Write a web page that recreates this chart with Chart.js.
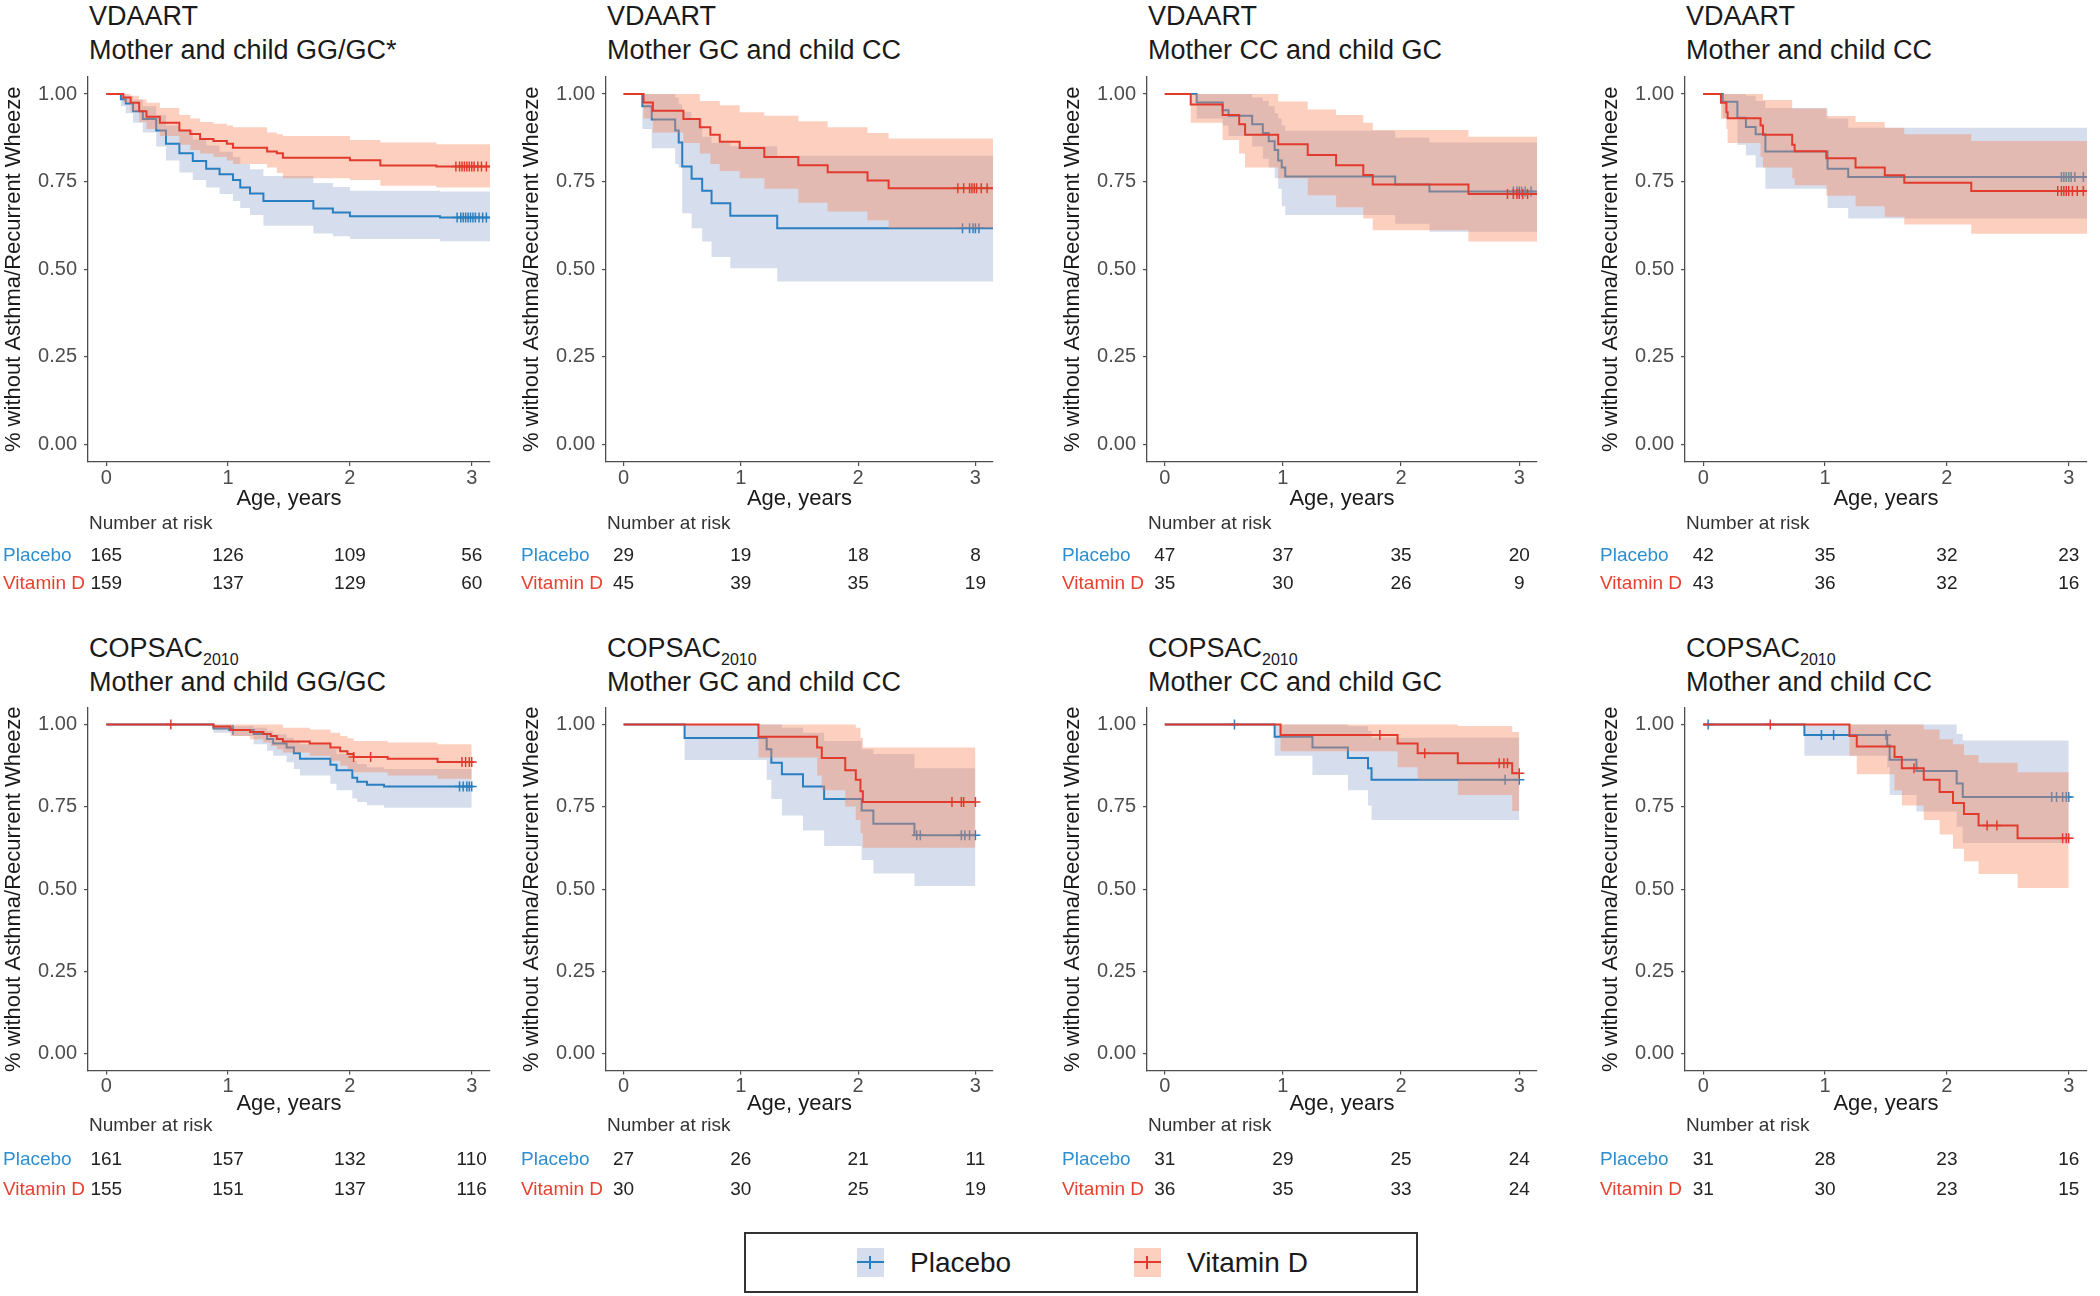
<!DOCTYPE html>
<html>
<head>
<meta charset="utf-8">
<script src="https://cdn.jsdelivr.net/npm/chart.js@4.4.1/dist/chart.umd.min.js"></script>
<style>
    html, body { margin: 0; padding: 0; background: #fff; }
    body { width: 2100px; height: 1296px; position: relative; overflow: hidden;
           font-family: "Liberation Sans", Arial, Helvetica, sans-serif; }
    canvas { position: absolute; }
    .ttl { position: absolute; font-size: 27px; line-height: 34px; color: #1a1a1a; white-space: nowrap; }
    .ttl .sub { font-size: 16px; position: relative; top: 8px; line-height: 0; }
    #legend { position: absolute; left: 744px; top: 1232px; width: 674px; height: 61px;
              box-sizing: border-box; border: 2px solid #333; background: #fff; }
    #legend .sw { position: absolute; top: 14px; width: 27px; height: 29px; }
    #legend .sw::before { content: ""; position: absolute; left: 0; right: 0; top: 13px; height: 2px; background: var(--c); }
    #legend .sw::after { content: ""; position: absolute; left: 12px; width: 2px; top: 8px; height: 13px; background: var(--c); }
    #legend .txt { position: absolute; top: 13px; font-size: 28px; line-height: 32px; color: #1a1a1a; }
</style>
</head>
<body>
<div id="legend">
    <span class="sw" style="left:111px;background:#d6ddec;--c:#2a7fc0"></span>
    <span class="txt" style="left:164px">Placebo</span>
    <span class="sw" style="left:388px;background:#fccfbe;--c:#e23b2e"></span>
    <span class="txt" style="left:441px">Vitamin D</span>
</div>
<script>
// titoli dei pannelli
const cohorts = ["VDAART", "VDAART", "VDAART", "VDAART", "COPSAC", "COPSAC", "COPSAC", "COPSAC"]
const cohortSub = ["", "", "", "", "2010", "2010", "2010", "2010"]
const subgroups = [
    "Mother and child GG/GC*", "Mother GC and child CC", "Mother CC and child GC", "Mother and child CC",
    "Mother and child GG/GC", "Mother GC and child CC", "Mother CC and child GC", "Mother and child CC",
]
const xTicks = [0, 1, 2, 3]
const yTicks = [0, 0.25, 0.5, 0.75, 1]

// number at risk at 0, 1, 2, 3 years
const riskPlacebo = [[165, 126, 109, 56], [29, 19, 18, 8], [47, 37, 35, 20], [42, 35, 32, 23],
    [161, 157, 132, 110], [27, 26, 21, 11], [31, 29, 25, 24], [31, 28, 23, 16]]
const riskVitaminD = [[159, 137, 129, 60], [45, 39, 35, 19], [35, 30, 26, 9], [43, 36, 32, 16],
    [155, 151, 137, 116], [30, 30, 25, 19], [36, 35, 33, 24], [31, 30, 23, 15]]

// curve: [age, survival, lower CI, upper CI]
const placebo1 = [[0, 1, 1, 1], [0.12, 0.985, 0.965, 1], [0.16, 0.973, 0.945, 0.995], [0.22, 0.951, 0.918, 0.984],
    [0.30, 0.929, 0.89, 0.965], [0.41, 0.896, 0.85, 0.94], [0.49, 0.858, 0.81, 0.91], [0.60, 0.831, 0.776, 0.896],
    [0.71, 0.809, 0.755, 0.87], [0.82, 0.787, 0.733, 0.853], [0.93, 0.771, 0.715, 0.835], [1.04, 0.755, 0.695, 0.82],
    [1.10, 0.733, 0.675, 0.80], [1.18, 0.716, 0.655, 0.785], [1.29, 0.695, 0.624, 0.766], [1.70, 0.673, 0.602, 0.746],
    [1.86, 0.662, 0.594, 0.735], [2.00, 0.651, 0.586, 0.724], [2.74, 0.648, 0.58, 0.722], [3.15, 0.648, 0.58, 0.722]]
const vitaminD1 = [[0, 1, 1, 1], [0.14, 0.99, 0.975, 1], [0.20, 0.975, 0.95, 0.995], [0.27, 0.951, 0.92, 0.985],
    [0.33, 0.935, 0.90, 0.975], [0.44, 0.918, 0.88, 0.96], [0.60, 0.896, 0.855, 0.94], [0.69, 0.886, 0.84, 0.93],
    [0.77, 0.872, 0.83, 0.92], [0.88, 0.866, 0.82, 0.915], [0.99, 0.858, 0.81, 0.91], [1.04, 0.847, 0.80, 0.905],
    [1.32, 0.836, 0.79, 0.89], [1.40, 0.831, 0.775, 0.885], [1.45, 0.818, 0.76, 0.88], [2.00, 0.811, 0.755, 0.869],
    [2.25, 0.796, 0.738, 0.862], [2.71, 0.793, 0.733, 0.857], [3.15, 0.793, 0.733, 0.857]]
const placebo2 = [[0, 1, 1, 1], [0.16, 0.965, 0.90, 1], [0.24, 0.927, 0.845, 1], [0.44, 0.896, 0.80, 0.99],
    [0.47, 0.862, 0.79, 0.97], [0.50, 0.793, 0.66, 0.949], [0.58, 0.758, 0.617, 0.93], [0.67, 0.724, 0.579, 0.878],
    [0.75, 0.688, 0.535, 0.86], [0.91, 0.653, 0.503, 0.851], [1.31, 0.617, 0.465, 0.824], [3.15, 0.617, 0.465, 0.824]]
const vitaminD2 = [[0, 1, 1, 1], [0.17, 0.976, 0.93, 1], [0.25, 0.952, 0.89, 1], [0.51, 0.929, 0.86, 1],
    [0.65, 0.905, 0.83, 0.98], [0.74, 0.884, 0.80, 0.98], [0.82, 0.864, 0.78, 0.968], [0.99, 0.846, 0.76, 0.948],
    [1.20, 0.82, 0.73, 0.938], [1.49, 0.797, 0.69, 0.922], [1.74, 0.777, 0.665, 0.905], [2.08, 0.753, 0.64, 0.889],
    [2.26, 0.731, 0.617, 0.873], [3.15, 0.731, 0.617, 0.873]]
const placebo3 = [[0, 1, 1, 1], [0.27, 0.976, 0.93, 1], [0.49, 0.954, 0.91, 1], [0.54, 0.938, 0.88, 1],
    [0.74, 0.914, 0.85, 0.99], [0.83, 0.889, 0.815, 0.98], [0.88, 0.865, 0.79, 0.965], [0.93, 0.84, 0.76, 0.945],
    [0.96, 0.81, 0.73, 0.93], [0.99, 0.79, 0.68, 0.91], [1.02, 0.765, 0.655, 0.895], [1.95, 0.742, 0.63, 0.875],
    [2.24, 0.722, 0.607, 0.862], [3.15, 0.722, 0.607, 0.862]]
const vitaminD3 = [[0, 1, 1, 1], [0.22, 0.97, 0.918, 1], [0.49, 0.94, 0.869, 1], [0.63, 0.914, 0.83, 1],
    [0.68, 0.884, 0.79, 1], [0.96, 0.857, 0.76, 0.979], [1.21, 0.826, 0.711, 0.956], [1.45, 0.797, 0.677, 0.94],
    [1.68, 0.769, 0.645, 0.918], [1.76, 0.742, 0.611, 0.897], [2.57, 0.715, 0.579, 0.878], [3.15, 0.715, 0.579, 0.878]]
const placebo4 = [[0, 1, 1, 1], [0.16, 0.978, 0.93, 1], [0.28, 0.932, 0.855, 1], [0.35, 0.906, 0.825, 0.995],
    [0.43, 0.885, 0.79, 0.98], [0.51, 0.836, 0.73, 0.96], [1.02, 0.787, 0.675, 0.93], [1.19, 0.763, 0.645, 0.904],
    [3.15, 0.763, 0.645, 0.904]]
const vitaminD4 = [[0, 1, 1, 1], [0.145, 0.975, 0.93, 1], [0.19, 0.948, 0.90, 1], [0.20, 0.931, 0.86, 1],
    [0.47, 0.91, 0.82, 1], [0.49, 0.884, 0.79, 0.983], [0.73, 0.855, 0.76, 0.959], [0.75, 0.837, 0.74, 0.959],
    [1.01, 0.817, 0.71, 0.937], [1.25, 0.79, 0.68, 0.92], [1.49, 0.768, 0.65, 0.904], [1.65, 0.747, 0.628, 0.885],
    [2.20, 0.723, 0.601, 0.866], [3.15, 0.723, 0.601, 0.866]]
const placebo5 = [[0, 1, 1, 1], [0.88, 0.988, 0.975, 1], [1.04, 0.983, 0.965, 0.995], [1.21, 0.971, 0.94, 0.99],
    [1.32, 0.956, 0.92, 0.98], [1.37, 0.942, 0.905, 0.97], [1.48, 0.93, 0.885, 0.96], [1.54, 0.913, 0.865, 0.95],
    [1.59, 0.896, 0.845, 0.94], [1.84, 0.878, 0.82, 0.925], [1.89, 0.861, 0.80, 0.91], [2.02, 0.838, 0.775, 0.89],
    [2.06, 0.826, 0.765, 0.88], [2.14, 0.817, 0.755, 0.87], [2.28, 0.812, 0.747, 0.865], [3.0, 0.812, 0.747, 0.865]]
const vitaminD5 = [[0, 1, 1, 1], [0.88, 0.994, 0.985, 1], [1.02, 0.983, 0.965, 1], [1.18, 0.977, 0.955, 1],
    [1.29, 0.971, 0.945, 1], [1.35, 0.965, 0.935, 1], [1.40, 0.956, 0.925, 1], [1.45, 0.948, 0.915, 0.99],
    [1.67, 0.942, 0.905, 0.985], [1.84, 0.93, 0.89, 0.975], [1.92, 0.919, 0.875, 0.965], [1.98, 0.91, 0.865, 0.958],
    [2.03, 0.901, 0.855, 0.95], [2.31, 0.896, 0.845, 0.945], [2.72, 0.886, 0.835, 0.94], [3.0, 0.886, 0.835, 0.94]]
const placebo6 = [[0, 1, 1, 1], [0.52, 0.959, 0.892, 1], [1.22, 0.925, 0.832, 1], [1.26, 0.884, 0.774, 1],
    [1.35, 0.849, 0.724, 0.99], [1.53, 0.812, 0.678, 0.975], [1.71, 0.774, 0.631, 0.95], [2.03, 0.739, 0.589, 0.925],
    [2.13, 0.699, 0.548, 0.91], [2.48, 0.664, 0.51, 0.867], [3.0, 0.664, 0.51, 0.867]]
const vitaminD6 = [[0, 1, 1, 1], [1.15, 0.963, 0.9, 1], [1.65, 0.93, 0.845, 1], [1.69, 0.898, 0.80, 1],
    [1.89, 0.861, 0.751, 1], [1.98, 0.832, 0.71, 0.99], [2.02, 0.797, 0.67, 0.96], [2.04, 0.765, 0.626, 0.93],
    [3.0, 0.765, 0.626, 0.93]]
const placebo7 = [[0, 1, 1, 1], [0.93, 0.963, 0.905, 1], [1.25, 0.93, 0.847, 1], [1.55, 0.898, 0.80, 0.995],
    [1.72, 0.867, 0.754, 0.98], [1.75, 0.832, 0.71, 0.96], [3.0, 0.832, 0.71, 0.96]]
const vitaminD7 = [[0, 1, 1, 1], [0.98, 0.968, 0.919, 1], [1.97, 0.942, 0.87, 1], [2.14, 0.913, 0.832, 1],
    [2.48, 0.882, 0.786, 0.995], [2.94, 0.852, 0.737, 0.977], [3.0, 0.852, 0.737, 0.977]]
const placebo8 = [[0, 1, 1, 1], [0.83, 0.968, 0.905, 1], [1.51, 0.936, 0.87, 1], [1.53, 0.893, 0.786, 1],
    [1.75, 0.859, 0.736, 1], [2.08, 0.821, 0.69, 0.971], [2.13, 0.78, 0.64, 0.951], [3.0, 0.78, 0.64, 0.951]]
const vitaminD8 = [[0, 1, 1, 1], [1.20, 0.965, 0.905, 1], [1.26, 0.933, 0.849, 1], [1.57, 0.901, 0.80, 1],
    [1.63, 0.867, 0.754, 1], [1.81, 0.832, 0.71, 0.985], [1.94, 0.795, 0.666, 0.955], [2.05, 0.762, 0.623, 0.94],
    [2.14, 0.728, 0.585, 0.907], [2.26, 0.693, 0.546, 0.884], [2.58, 0.655, 0.504, 0.855], [3.0, 0.655, 0.504, 0.855]]

// censored ages (the + marks)
const censorPlacebo1 = [2.88, 2.91, 2.93, 2.95, 2.97, 2.99, 3.01, 3.03, 3.06, 3.09, 3.12]
const censorVitaminD1 = [2.87, 2.9, 2.92, 2.94, 2.96, 2.98, 3.0, 3.02, 3.05, 3.08, 3.12]
const censorPlacebo2 = [2.89, 2.95, 2.98, 3.0, 3.03]
const censorVitaminD2 = [2.85, 2.9, 2.95, 2.97, 2.99, 3.01, 3.05, 3.1]
const censorPlacebo3 = [2.95, 2.98, 3.0, 3.02, 3.05, 3.1]
const censorVitaminD3 = [2.9, 2.95, 2.98, 3.0, 3.03, 3.07]
const censorPlacebo4 = [2.94, 2.96, 2.98, 3.0, 3.02, 3.05, 3.12]
const censorVitaminD4 = [2.91, 2.94, 2.96, 2.98, 3.0, 3.03, 3.07, 3.12]
const censorPlacebo5 = [1.04, 2.9, 2.93, 2.96, 2.98, 3.0]
const censorVitaminD5 = [0.53, 2.03, 2.17, 2.92, 2.95, 2.98, 3.0]
const censorPlacebo6 = [2.5, 2.53, 2.88, 2.91, 2.95, 3.0]
const censorVitaminD6 = [2.8, 2.88, 2.9, 3.0]
const censorPlacebo7 = [0.59, 2.88, 3.0]
const censorVitaminD7 = [1.82, 2.2, 2.83, 2.87, 2.9, 3.0]
const censorPlacebo8 = [0.04, 0.97, 1.07, 1.5, 2.86, 2.9, 2.95, 2.98, 3.0]
const censorVitaminD8 = [0.55, 1.73, 2.33, 2.41, 2.95, 2.98, 3.0]

const placeboCurves = [placebo1, placebo2, placebo3, placebo4, placebo5, placebo6, placebo7, placebo8]
const vitaminDCurves = [vitaminD1, vitaminD2, vitaminD3, vitaminD4, vitaminD5, vitaminD6, vitaminD7, vitaminD8]
const placeboCensors = [censorPlacebo1, censorPlacebo2, censorPlacebo3, censorPlacebo4,
    censorPlacebo5, censorPlacebo6, censorPlacebo7, censorPlacebo8]
const vitaminDCensors = [censorVitaminD1, censorVitaminD2, censorVitaminD3, censorVitaminD4,
    censorVitaminD5, censorVitaminD6, censorVitaminD7, censorVitaminD8]

// colori
const BLUE = "#2a7fc0"
const RED = "#e23b2e"
const BLUE_BAND = "#d6ddec"
const RED_BAND = "rgba(247, 135, 92, 0.4)"
const AXIS = "#4d4d4d"
const FONT = '"Liberation Sans", Arial, Helvetica, sans-serif'

// posizione delle aree di disegno
const plotLeft = [88, 606, 1147, 1685]
const plotRight = [490, 993, 1537, 2087]
const rowTop = [0, 600]
const rowHeight = [600, 620]
const plotTop = [76.5, 108]
const plotBottom = [462, 470.4]
const titleTop = [-1, 630.5]
const xTitlePad = [4.4, 8.2]
const riskY = [[523.5, 555.7, 583.6], [526, 559.6, 589.5]]

function survAt(rows, t) {
    let s = 1
    rows.forEach(r => { if (r[0] <= t) s = r[1] })
    return s
}

function curveSets(rows, censors, line, band) {
    const pts = k => rows.map(r => ({ x: r[0], y: r[k] }))
    return [
        {   // censure
            type: "scatter",
            data: censors.map(c => ({ x: c, y: survAt(rows, c) })),
            pointStyle: "cross", pointRadius: 5, borderColor: line, borderWidth: 1.5,
        },
        {   // curva
            data: pts(1), stepped: true, borderColor: line, borderWidth: 2, pointRadius: 0, fill: false,
        },
        {   // banda superiore, riempita fino alla inferiore
            data: pts(3), stepped: true, borderColor: "rgba(0,0,0,0)", borderWidth: 0, pointRadius: 0,
            fill: "+1", backgroundColor: band,
        },
        {   // banda inferiore
            data: pts(2), stepped: true, borderColor: "rgba(0,0,0,0)", borderWidth: 0, pointRadius: 0, fill: false,
        },
    ]
}

function main() {
    Chart.defaults.font.family = FONT
    Chart.defaults.animation = false

    for (let i = 0; i < 8; i++) {
        const row = i < 4 ? 0 : 1
        const col = i % 4
        const left = plotLeft[col] - 88
        const width = plotRight[col] + 12 - left

        // titolo in HTML (per il pedice)
        const t = document.createElement("div")
        t.className = "ttl"
        t.style.left = (plotLeft[col] + 1) + "px"
        t.style.top = titleTop[row] + "px"
        t.innerHTML = cohorts[i] + (cohortSub[i] ? '<span class="sub">' + cohortSub[i] + "</span>" : "") +
            "<br>" + subgroups[i]
        document.body.appendChild(t)

        const canvas = document.createElement("canvas")
        canvas.width = width
        canvas.height = rowHeight[row]
        canvas.style.left = left + "px"
        canvas.style.top = rowTop[row] + "px"
        document.body.appendChild(canvas)

        const vd = curveSets(vitaminDCurves[i], vitaminDCensors[i], RED, RED_BAND)
        const pl = curveSets(placeboCurves[i], placeboCensors[i], BLUE, BLUE_BAND)

        // tabella "Number at risk"
        const riskTable = {
            id: "riskTable",
            afterDraw(chart) {
                const ctx = chart.ctx
                const xs = chart.scales.x
                const a = chart.chartArea
                const ys = riskY[row]
                ctx.save()
                ctx.font = "19px " + FONT
                ctx.textBaseline = "middle"
                ctx.textAlign = "left"
                ctx.fillStyle = "#333"
                ctx.fillText("Number at risk", a.left + 1, ys[0])
                ctx.fillStyle = "#2e8fd0"
                ctx.fillText("Placebo", a.left - 85, ys[1])
                ctx.fillStyle = "#e8402f"
                ctx.fillText("Vitamin D", a.left - 85, ys[2])
                ctx.textAlign = "center"
                ctx.fillStyle = "#222"
                xTicks.forEach((v, j) => {
                    const px = xs.getPixelForValue(v)
                    ctx.fillText(String(riskPlacebo[i][j]), px, ys[1])
                    ctx.fillText(String(riskVitaminD[i][j]), px, ys[2])
                })
                ctx.restore()
            },
        }

        new Chart(canvas, {
            type: "line",
            data: { datasets: vd.concat(pl) },
            options: {
                responsive: false,
                devicePixelRatio: 1,
                events: [],
                layout: {
                    padding: {
                        top: plotTop[row], left: 0, right: 12,
                        bottom: rowHeight[row] - plotBottom[row] - 55,
                    },
                },
                scales: {
                    x: {
                        type: "linear", min: -0.15, max: 3.15,
                        afterBuildTicks: s => { s.ticks = xTicks.map(v => ({ value: v })) },
                        afterFit: s => { s.height = 55 },
                        ticks: { color: AXIS, font: { size: 20 }, padding: 0, maxRotation: 0, autoSkip: false,
                                 callback: v => String(v) },
                        grid: { drawOnChartArea: false, drawTicks: true, tickLength: 4, color: AXIS, lineWidth: 1.2 },
                        border: { display: true, color: AXIS, width: 1.3 },
                        title: { display: true, text: "Age, years", color: "#1a1a1a", font: { size: 22 },
                                 padding: { top: 0, bottom: xTitlePad[row] } },
                    },
                    y: {
                        type: "linear", min: -0.05, max: 1.05,
                        afterBuildTicks: s => { s.ticks = yTicks.map(v => ({ value: v })) },
                        afterFit: s => { s.width = 88 },
                        ticks: { color: AXIS, font: { size: 20 }, padding: 7, callback: v => v.toFixed(2) },
                        grid: { drawOnChartArea: false, drawTicks: true, tickLength: 4, color: AXIS, lineWidth: 1.2 },
                        border: { display: true, color: AXIS, width: 1.3 },
                        title: { display: true, text: "% without Asthma/Recurrent Wheeze", color: "#1a1a1a",
                                 font: { size: 22 }, padding: { top: 1, bottom: 0 } },
                    },
                },
                elements: { line: { tension: 0 } },
                plugins: {
                    legend: { display: false },
                    tooltip: { enabled: false },
                },
            },
            plugins: [riskTable],
        })
    }
}

document.addEventListener("DOMContentLoaded", main)
</script>
</body>
</html>
